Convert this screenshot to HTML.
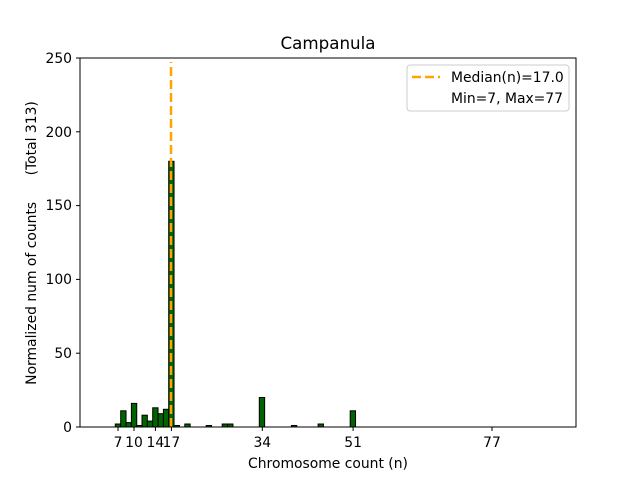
<!DOCTYPE html>
<html><head><style>body{margin:0;background:#fff}svg{display:block;font-family:"DejaVu Sans","Liberation Sans",sans-serif}</style></head><body>
<svg width="640" height="480" viewBox="0 0 640 480" xmlns="http://www.w3.org/2000/svg">
<rect width="640" height="480" fill="#fff"/>
<g fill="#006400" stroke="#000" stroke-width="1">
<rect x="115.3" y="424" width="5.34" height="3"/>
<rect x="120.7" y="410.8" width="5.34" height="16.2"/>
<rect x="126.0" y="422.6" width="5.34" height="4.4"/>
<rect x="131.4" y="403.4" width="5.34" height="23.6"/>
<rect x="136.7" y="425.5" width="5.34" height="1.5"/>
<rect x="142.0" y="415.2" width="5.34" height="11.8"/>
<rect x="147.4" y="421.1" width="5.34" height="5.9"/>
<rect x="152.7" y="407.8" width="5.34" height="19.2"/>
<rect x="158.1" y="413.7" width="5.34" height="13.3"/>
<rect x="163.4" y="409.3" width="5.34" height="17.7"/>
<rect x="168.7" y="161.3" width="5.34" height="265.7"/>
<rect x="174.1" y="425.5" width="5.34" height="1.5"/>
<rect x="184.8" y="424" width="5.34" height="3"/>
<rect x="206.2" y="425.5" width="5.34" height="1.5"/>
<rect x="222.2" y="424" width="5.34" height="3"/>
<rect x="227.6" y="424" width="5.34" height="3"/>
<rect x="259.3" y="397.5" width="5.34" height="29.5"/>
<rect x="291.4" y="425.5" width="5.34" height="1.5"/>
<rect x="318.1" y="424" width="5.34" height="3"/>
<rect x="350.2" y="410.8" width="5.34" height="16.2"/>
</g>
<line x1="171" y1="427" x2="171" y2="62" stroke="#FFA500" stroke-width="2.5" stroke-dasharray="9,4"/>
<rect x="80" y="58" width="496" height="369" fill="none" stroke="#000" stroke-width="1"/>
<g stroke="#000" stroke-width="1">
<line x1="118" y1="427" x2="118" y2="431"/><line x1="134" y1="427" x2="134" y2="431"/><line x1="155.4" y1="427" x2="155.4" y2="431"/><line x1="171.4" y1="427" x2="171.4" y2="431"/><line x1="262.3" y1="427" x2="262.3" y2="431"/><line x1="353.1" y1="427" x2="353.1" y2="431"/><line x1="492" y1="427" x2="492" y2="431"/>
<line x1="76" y1="427" x2="80" y2="427"/><line x1="76" y1="353.2" x2="80" y2="353.2"/><line x1="76" y1="279.4" x2="80" y2="279.4"/><line x1="76" y1="205.6" x2="80" y2="205.6"/><line x1="76" y1="131.8" x2="80" y2="131.8"/><line x1="76" y1="58" x2="80" y2="58"/>
</g>
<g font-size="13.9" fill="#000" text-anchor="middle">
<text x="118" y="447">7</text><text x="134" y="447">10</text><text x="155.4" y="447">14</text><text x="171.4" y="447">17</text><text x="262.3" y="447">34</text><text x="353.1" y="447">51</text><text x="492" y="447">77</text>
</g>
<g font-size="13.9" fill="#000" text-anchor="end">
<text x="72" y="432">0</text><text x="72" y="358">50</text><text x="72" y="284">100</text><text x="72" y="210">150</text><text x="72" y="137">200</text><text x="72" y="63">250</text>
</g>
<text x="328" y="468" font-size="13.9" text-anchor="middle">Chromosome count (n)</text>
<text x="328" y="49" font-size="16.7" text-anchor="middle">Campanula</text>
<text transform="translate(36,243) rotate(-90)" font-size="13.9" text-anchor="middle" style="white-space:pre" xml:space="preserve">Normalized num of counts      (Total 313)</text>
<rect x="407" y="65" width="162" height="46" rx="3" fill="#fff" stroke="#ccc"/>
<line x1="412" y1="77" x2="440" y2="77" stroke="#FFA500" stroke-width="2.5" stroke-dasharray="9,4"/>
<text x="451" y="82" font-size="13.9">Median(n)=17.0</text>
<text x="451" y="103" font-size="13.9">Min=7, Max=77</text>
</svg>
</body></html>
